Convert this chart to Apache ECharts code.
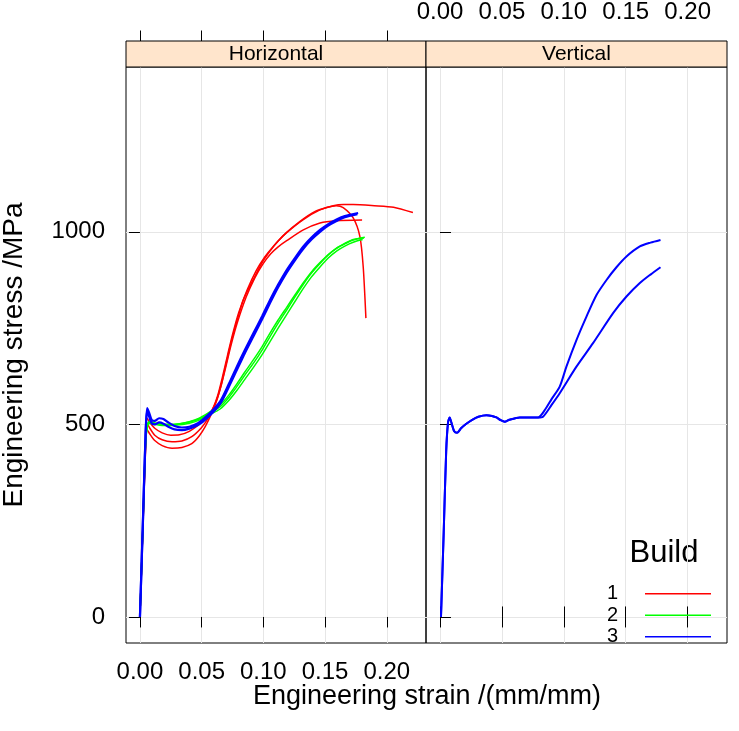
<!DOCTYPE html>
<html>
<head>
<meta charset="utf-8">
<script src="https://cdn.jsdelivr.net/npm/echarts@6/dist/echarts.min.js"></script>
<style>html,body{margin:0;padding:0;background:#fff;}#chart{width:739px;height:731px;}</style>
</head>
<body>
<div id="chart"></div>
<script>
// ---- data (strain mm/mm, stress MPa) ----
const panels = ['Horizontal', 'Vertical'];
const builds = ['1', '2', '3'];
const buildColors = ['#FF0000', '#00FF00', '#0000FF'];
const xTicks = [0, 0.05, 0.10, 0.15, 0.20];
const yTicks = [0, 500, 1000];
const xTitle = 'Engineering strain /(mm/mm)';
const yTitle = 'Engineering stress /MPa';
const legendTitle = 'Build';

// Horizontal, build 1
const h1a = [[0,0],[0.0025,250],[0.0045,450],[0.0058,516],[0.008,505],[0.012,490],[0.018,478],[0.025,472],[0.032,473],[0.04,482],[0.048,500],[0.054,518],[0.058,535],[0.062,562],[0.066,605],[0.070,660],[0.074,715],[0.0785,768],[0.084,825],[0.092,877],[0.099,920],[0.1054,950],[0.112,976],[0.1189,998],[0.1324,1032],[0.1459,1057],[0.1566,1068],[0.165,1071],[0.1728,1071],[0.19,1068],[0.2055,1064],[0.2212,1050]];
const h1b = [[0,0],[0.0025,245],[0.0045,440],[0.0058,503],[0.008,490],[0.012,472],[0.018,460],[0.026,455],[0.034,457],[0.042,468],[0.05,492],[0.055,515],[0.059,540],[0.063,575],[0.067,625],[0.071,680],[0.075,733],[0.08,790],[0.087,850],[0.094,898],[0.101,934],[0.108,962],[0.118,996],[0.13,1028],[0.142,1053],[0.152,1064],[0.159,1068],[0.1647,1063],[0.1728,1036],[0.1782,988],[0.1809,910],[0.1831,776]];
const h1c = [[0,0],[0.0025,240],[0.0045,430],[0.0058,487],[0.008,475],[0.012,458],[0.018,445],[0.026,438],[0.034,440],[0.042,450],[0.048,470],[0.053,495],[0.058,528],[0.062,560],[0.066,603],[0.070,655],[0.074,708],[0.079,765],[0.086,830],[0.093,880],[0.1,918],[0.106,943],[0.112,961],[0.1189,977],[0.1324,1005],[0.1459,1023],[0.1593,1029],[0.18,1031]];
// Horizontal, build 2
const h2a = [[0,0],[0.0025,250],[0.0045,450],[0.0062,500],[0.008,506],[0.012,502],[0.018,499],[0.025,499],[0.032,501],[0.04,506],[0.048,514],[0.056,528],[0.065,546],[0.072,570],[0.0785,598],[0.085,628],[0.092,659],[0.099,693],[0.1054,728],[0.112,763],[0.1189,797],[0.126,833],[0.1324,864],[0.139,893],[0.1459,918],[0.1526,940],[0.1593,957],[0.166,969],[0.1728,979],[0.1822,986]];
const h2b = [[0,0],[0.0025,245],[0.0045,445],[0.0062,497],[0.008,503],[0.012,500],[0.018,497],[0.025,497],[0.032,499],[0.04,503],[0.048,511],[0.056,524],[0.065,540],[0.072,562],[0.0785,588],[0.085,617],[0.092,648],[0.099,681],[0.1054,715],[0.112,750],[0.1189,785],[0.126,821],[0.1324,853],[0.139,883],[0.1459,909],[0.1526,932],[0.1593,950],[0.166,963],[0.1728,973],[0.1805,980]];
const h2c = [[0,0],[0.0025,248],[0.0045,448],[0.0062,502],[0.008,508],[0.012,504],[0.018,501],[0.025,500],[0.032,502],[0.04,507],[0.048,516],[0.056,531],[0.065,551],[0.072,576],[0.0785,605],[0.085,636],[0.092,668],[0.099,702],[0.1054,737],[0.112,771],[0.1189,804],[0.126,838],[0.1324,868],[0.139,896],[0.1459,920],[0.1526,941],[0.1593,958],[0.166,970],[0.1728,980],[0.1815,984]];
// Horizontal, build 3
const h3a = [[0,0],[0.0025,260],[0.0045,470],[0.0058,542],[0.0075,530],[0.0095,512],[0.012,509],[0.0155,516],[0.019,514],[0.023,505],[0.028,496],[0.034,492],[0.04,494],[0.047,503],[0.055,524],[0.065,560],[0.072,605],[0.0785,650],[0.085,693],[0.092,737],[0.099,781],[0.1054,823],[0.112,863],[0.1189,901],[0.126,934],[0.1324,962],[0.139,985],[0.1459,1005],[0.1526,1020],[0.1593,1032],[0.166,1041],[0.1768,1049]];
const h3b = [[0,0],[0.0025,255],[0.0045,465],[0.0058,536],[0.0075,520],[0.0095,503],[0.012,500],[0.0155,505],[0.019,502],[0.023,494],[0.028,487],[0.034,485],[0.04,489],[0.047,498],[0.055,518],[0.065,553],[0.072,597],[0.0785,641],[0.085,685],[0.092,729],[0.099,773],[0.1054,815],[0.112,856],[0.1189,894],[0.126,928],[0.1324,956],[0.139,980],[0.1459,1000],[0.1526,1016],[0.1593,1028],[0.166,1038],[0.1762,1046]];
// Vertical, build 3
const v3a = [[0.0008,0],[0.003,220],[0.005,430],[0.0065,505],[0.0078,518],[0.0092,505],[0.0115,482],[0.0138,478],[0.017,490],[0.021,501],[0.026,512],[0.031,520],[0.0375,524],[0.042,522],[0.0456,518],[0.049,511],[0.0523,507],[0.056,512],[0.0644,518],[0.072,518],[0.0792,518],[0.0846,537],[0.09,565],[0.0967,598],[0.1021,650],[0.1102,719],[0.1183,780],[0.1264,836],[0.1345,875],[0.1425,908],[0.1506,936],[0.1614,962],[0.17,972],[0.1781,979]];
const v3b = [[0.0008,0],[0.003,220],[0.005,430],[0.0065,505],[0.0078,518],[0.0092,505],[0.0115,482],[0.0138,478],[0.017,490],[0.021,501],[0.026,512],[0.031,520],[0.0375,524],[0.042,522],[0.0456,518],[0.049,511],[0.0523,507],[0.056,512],[0.0644,518],[0.072,518],[0.0792,518],[0.0832,520],[0.09,550],[0.0967,581],[0.1102,650],[0.1236,711],[0.1398,789],[0.1506,832],[0.1614,867],[0.17,889],[0.1781,908]];

const curves = [
  {panel:0, build:0, data:h1a, w:1.5},
  {panel:0, build:0, data:h1b, w:1.5},
  {panel:0, build:0, data:h1c, w:1.5},
  {panel:0, build:1, data:h2a, w:1.5},
  {panel:0, build:1, data:h2b, w:1.5},
  {panel:0, build:1, data:h2c, w:1.5},
  {panel:0, build:2, data:h3a, w:2.2},
  {panel:0, build:2, data:h3b, w:2.2},
  {panel:1, build:2, data:v3a, w:2},
  {panel:1, build:2, data:v3b, w:2}
];

// ---- layout ----
const X_MIN = -0.0113, X_MAX = 0.2318, Y_MIN = -67.6, Y_MAX = 1428;
const FONT = 'Liberation Sans, Arial, Helvetica, sans-serif';
const GRID_TOP = 67, GRID_H = 576;
const gridDefs = [
  {left:126, top:GRID_TOP, width:300, height:GRID_H},
  {left:426, top:GRID_TOP, width:301, height:GRID_H}
];

function xAx(grid, pos, showLabel, offset, split) {
  return {
    type:'value', gridIndex:grid, position:pos, offset:offset, min:X_MIN, max:X_MAX,
    axisLine:{show:false},
    axisTick:{show:true, inside:false, length:10.5, customValues:xTicks, lineStyle:{color:'#000', width:1}},
    axisLabel:{show:showLabel, customValues:xTicks, formatter:v=>v.toFixed(2), fontSize:24, color:'#000', fontFamily:FONT, margin:17},
    splitLine:{show:split, lineStyle:{color:'#e6e6e6', width:1}}
  };
}
function yAx(grid, pos, showLabel, showTick, split) {
  return {
    type:'value', gridIndex:grid, position:pos, min:Y_MIN, max:Y_MAX,
    axisLine:{show:false},
    axisTick:{show:showTick, inside:false, length:11, customValues:yTicks, lineStyle:{color:'#000', width:1}},
    axisLabel:{show:showLabel, customValues:yTicks, formatter:v=>String(v), fontSize:24, color:'#000', fontFamily:FONT, margin:21},
    splitLine:{show:split, lineStyle:{color:'#e6e6e6', width:1}}
  };
}

const option = {
  animation:false,
  backgroundColor:'#fff',
  grid: gridDefs.map(g => Object.assign({show:true, borderColor:'#000', borderWidth:1, backgroundColor:'transparent', containLabel:false, outerBoundsMode:'none'}, g)),
  xAxis: [
    xAx(0,'bottom',true,0,true),
    xAx(1,'bottom',false,0,true),
    xAx(0,'top',false,26,false),
    xAx(1,'top',true,26,false)
  ],
  yAxis: [
    yAx(0,'left',true,true,true),
    yAx(1,'left',false,false,true),
    yAx(1,'right',false,true,false)
  ],
  legend: {
    data: builds, orient:'vertical', right:23, top:578, align:'right',
    itemWidth:66, itemHeight:1.6, itemGap:0, icon:'rect', selectedMode:false,
    textStyle:{fontSize:20, color:'#000', fontFamily:FONT, lineHeight:21.5, padding:[0,22,0,0]}
  },
  graphic: [
    {type:'rect', shape:{x:gridDefs[0].left, y:41, width:gridDefs[0].width, height:26}, style:{fill:'#FFE5CC', stroke:'#000', lineWidth:1}, z:10},
    {type:'rect', shape:{x:gridDefs[1].left, y:41, width:gridDefs[1].width, height:26}, style:{fill:'#FFE5CC', stroke:'#000', lineWidth:1}, z:10},
    {type:'text', x:gridDefs[0].left + gridDefs[0].width/2, y:54, style:{text:panels[0], fontSize:21, fontFamily:FONT, fill:'#000', align:'center', verticalAlign:'middle'}, z:11},
    {type:'text', x:gridDefs[1].left + gridDefs[1].width/2, y:54, style:{text:panels[1], fontSize:21, fontFamily:FONT, fill:'#000', align:'center', verticalAlign:'middle'}, z:11},
    {type:'text', x:427, y:697, style:{text:xTitle, fontSize:27, fontFamily:FONT, fill:'#000', align:'center', verticalAlign:'middle'}},
    {type:'text', x:14, y:355, rotation:Math.PI/2, style:{text:yTitle, fontSize:28, fontFamily:FONT, fill:'#000', align:'center', verticalAlign:'middle'}},
    {type:'text', x:664, y:553, style:{text:legendTitle, fontSize:31, fontFamily:FONT, fill:'#000', align:'center', verticalAlign:'middle'}}
  ],
  series: curves.map(c => ({
    type:'line', name:builds[c.build], xAxisIndex:c.panel, yAxisIndex:c.panel,
    data:c.data, showSymbol:false, symbol:'none', smooth:0.25,
    lineStyle:{color:buildColors[c.build], width:c.w},
    itemStyle:{color:buildColors[c.build]},
    emphasis:{disabled:true}, silent:true
  }))
};

const chart = echarts.init(document.getElementById('chart'), null, {renderer:'canvas'});
chart.setOption(option);
</script>
</body>
</html>
